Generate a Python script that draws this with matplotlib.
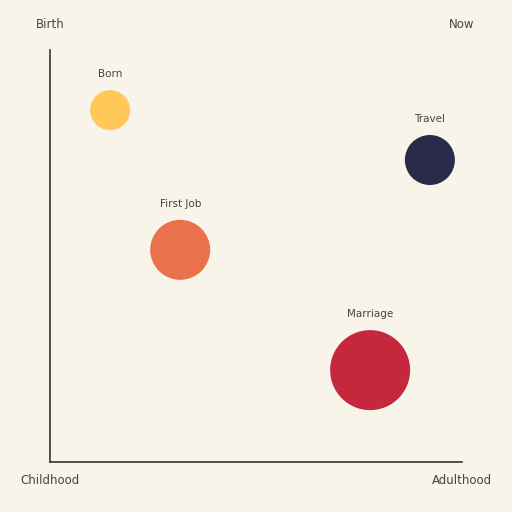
import matplotlib
matplotlib.use("Agg")
import matplotlib.pyplot as plt

# Life events bubble chart
events = ["Born", "First Job", "Marriage", "Travel"]
x_vals = [14.6, 31.6, 77.7, 92.2]
y_vals = [85.4, 51.5, 22.3, 73.3]
radius_px = [20, 30, 40, 25]
colors = ["#FFC857", "#E9724C", "#C5283D", "#2A2A4A"]

bg = "#F8F4EA"
text_color = "#444444"

fig = plt.figure(figsize=(5.12, 5.12), dpi=100, facecolor=bg)
ax = fig.add_axes([50 / 512, 50 / 512, 412 / 512, 412 / 512], facecolor=bg)
ax.set_xlim(0, 100)
ax.set_ylim(0, 100)

sizes = [(2 * r * 0.72) ** 2 for r in radius_px]
ax.scatter(x_vals, y_vals, s=sizes, c=colors, edgecolors="none", zorder=3)

for name, x, y, r in zip(events, x_vals, y_vals, radius_px):
    ax.annotate(name, (x, y), xytext=(0, r * 0.72 + 8), textcoords="offset points",
                ha="center", va="bottom", fontsize=7.5, color=text_color)

for side in ["top", "right"]:
    ax.spines[side].set_visible(False)
for side in ["left", "bottom"]:
    ax.spines[side].set_color("#333333")
    ax.spines[side].set_linewidth(1.2)
ax.set_xticks([])
ax.set_yticks([])

fig.text(50 / 512, 1 - 25 / 512, "Birth", ha="center", va="center", fontsize=8.5, color=text_color)
fig.text(462 / 512, 1 - 25 / 512, "Now", ha="center", va="center", fontsize=8.5, color=text_color)
fig.text(50 / 512, 1 - 480 / 512, "Childhood", ha="center", va="center", fontsize=8.5, color=text_color)
fig.text(462 / 512, 1 - 480 / 512, "Adulthood", ha="center", va="center", fontsize=8.5, color=text_color)

fig.savefig("out.png", dpi=100, facecolor=bg)
